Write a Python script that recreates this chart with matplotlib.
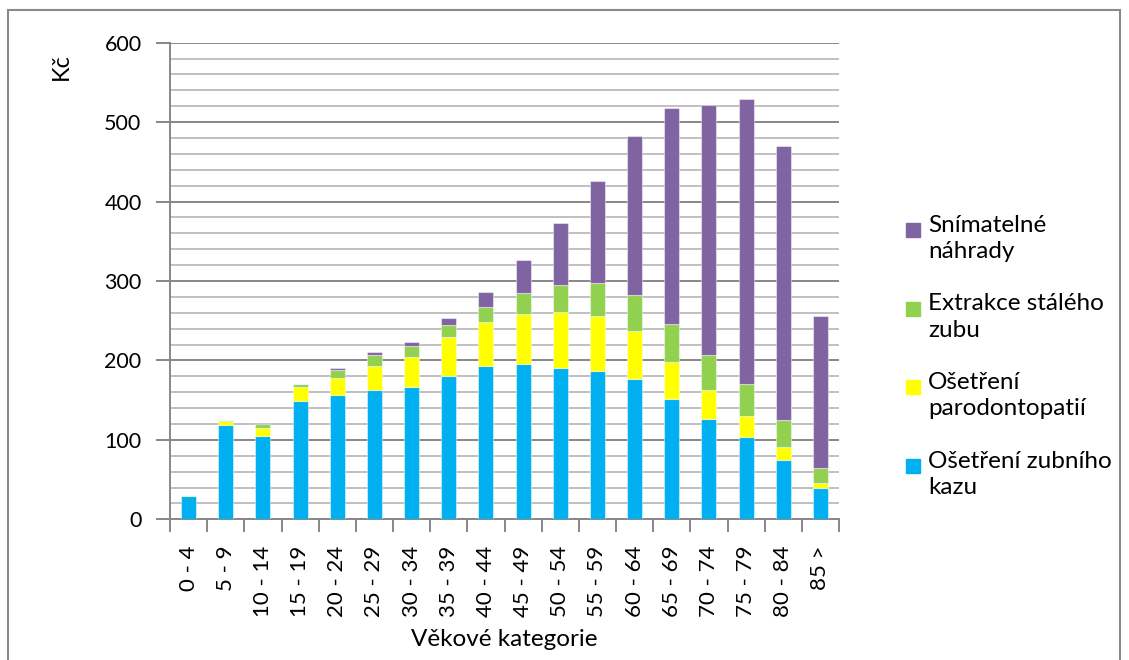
import matplotlib
matplotlib.use('Agg')
import matplotlib.pyplot as plt
from matplotlib.patches import Rectangle
from matplotlib.ticker import MultipleLocator, FixedLocator

plt.rcParams['font.family'] = ['Lato', 'DejaVu Sans']

categories = ['0 - 4', '5 - 9', '10 - 14', '15 - 19', '20 - 24', '25 - 29',
              '30 - 34', '35 - 39', '40 - 44', '45 - 49', '50 - 54', '55 - 59',
              '60 - 64', '65 - 69', '70 - 74', '75 - 79', '80 - 84', '85 >']

# Kč per age group, stacked from bottom
kaz = [29, 119, 105, 149, 156.5, 163, 167, 181, 193, 195.5, 191, 187, 176, 151, 126, 104, 75, 39]
parodont = [1, 5, 10, 17, 21.5, 30, 37, 48, 56, 62.5, 70, 69, 61, 47.5, 36.5, 26, 16, 7]
extrakce = [0.3, 0.5, 5.5, 4, 10.5, 13.5, 14, 15, 18, 26.5, 34, 41.5, 45, 47.5, 44, 40.5, 34, 18]
nahrady = [0, 0.5, 0.5, 0.5, 2, 4, 5.5, 9, 19, 42, 77.5, 129, 200, 271.5, 314.5, 358, 345, 192]

series = [
    ('Ošetření zubního\nkazu', kaz, '#00B0F0'),
    ('Ošetření\nparodontopatií', parodont, '#FFFF00'),
    ('Extrakce stálého\nzubu', extrakce, '#92D050'),
    ('Snímatelné\nnáhrady', nahrady, '#8064A2'),
]

W, H = 1129, 660
fig = plt.figure(figsize=(W / 100, H / 100), dpi=100)
ax = fig.add_axes([170 / W, 1 - 519.3 / H, (839 - 170) / W, (519.3 - 42.7) / H])

x = list(range(len(categories)))
bottom = [0] * len(categories)
for name, vals, color in series:
    ax.bar(x, vals, 0.4, bottom=bottom, color=color,
           edgecolor=(1, 1, 1, 0.45), linewidth=0.8, zorder=3)
    bottom = [b + v for b, v in zip(bottom, vals)]

grid_dark = '#878787'
grid_light = '#C0C0C0'

ax.set_xlim(-0.5, len(categories) - 0.5)
ax.set_ylim(0, 600)
ax.yaxis.set_major_locator(MultipleLocator(100))
ax.yaxis.set_minor_locator(MultipleLocator(20))
ax.yaxis.grid(True, which='major', color=grid_dark, lw=1.4, zorder=1)
ax.yaxis.grid(True, which='minor', color=grid_light, lw=1.4, zorder=1)
ax.set_axisbelow(True)

ax.set_xticks(x)
ax.set_xticklabels(categories, rotation=90, va='top', ha='center')
ax.xaxis.set_minor_locator(FixedLocator([i - 0.5 for i in range(len(categories) + 1)]))
ax.tick_params(axis='x', which='major', length=0, pad=19, labelsize=16)
ax.tick_params(axis='x', which='minor', length=9, width=1.4, color=grid_dark)
ax.tick_params(axis='y', which='major', length=10, width=1.4, color=grid_dark,
               pad=10.5, labelsize=15.5)
ax.tick_params(axis='y', which='minor', length=0)

for s in ['top', 'right']:
    ax.spines[s].set_visible(False)
for s in ['left', 'bottom']:
    ax.spines[s].set_color(grid_dark)
    ax.spines[s].set_linewidth(1.4)

fig.text(61 / W, 1 - 67 / H, 'Kč', rotation=90, fontsize=17, ha='center', va='center')
fig.text(504 / W, 1 - 640 / H, 'Věkové kategorie', fontsize=17.5, ha='center', va='center')

# legend, top entry is the last series
y0 = 230
for k, (name, vals, color) in enumerate(reversed(series)):
    yc = y0 + k * 78.5
    fig.add_artist(Rectangle((906 / W, 1 - (yc + 7) / H), 14 / W, 14 / H,
                             transform=fig.transFigure, color=color))
    fig.text(928 / W, 1 - (yc - 15) / H, name, fontsize=17.5, ha='left', va='top',
             linespacing=1.3)

# outer frame
fig.add_artist(Rectangle((8 / W, -0.1), (1120 - 8) / W, 1.1 - 10 / H,
                         transform=fig.transFigure, fill=False,
                         edgecolor='#8A8A8A', lw=1.5))

fig.savefig('out.png', dpi=100)
